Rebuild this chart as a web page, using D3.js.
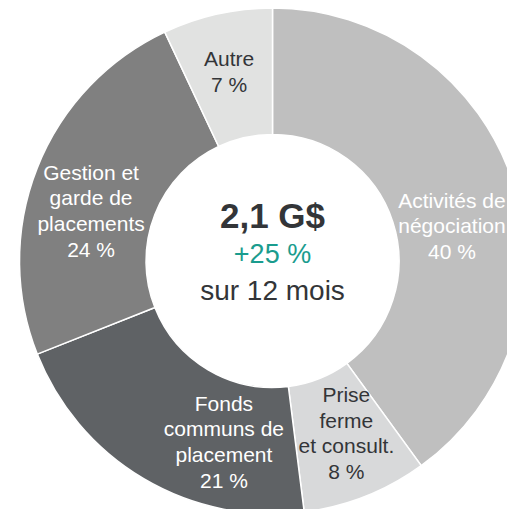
<!DOCTYPE html>
<html>
<head>
<meta charset="utf-8">
<script src="https://cdn.jsdelivr.net/npm/d3@7"></script>
<style>
  body { margin: 0; background: #fff; overflow: hidden; }
  svg { display: block; font-family: "Liberation Sans", Arial, sans-serif; }
</style>
</head>
<body>
<svg id="chart"></svg>
<script>
// slices, clockwise from 12 o'clock
var segments = ["Activités de négociation", "Prise ferme et consult.", "Fonds communs de placement", "Gestion et garde de placements", "Autre"]
var shares = [40, 8, 21, 24, 7]
var labelLines = [
  ["Activités de", "négociation", "40 %"],
  ["Prise", "ferme", "et consult.", "8 %"],
  ["Fonds", "communs de", "placement", "21 %"],
  ["Gestion et", "garde de", "placements", "24 %"],
  ["Autre", "7 %"]
]
var centerLines = ["2,1 G$", "+25 %", "sur 12 mois"]

var fills = ["#bfbfbf", "#d8d9da", "#5f6265", "#808080", "#e1e2e1"]
var textFills = ["#ffffff", "#333538", "#ffffff", "#ffffff", "#333538"]
// hand placement of labels, offset from the arc centroid (as in the original slide)
var nudge = [[-1, 24], [4, -4], [48, 18], [-5, 20], [-2, -4]]

var width = 507, height = 509
var cx = 272.5, cy = 261
var outerR = 253, innerR = 126.5

var svg = d3.select("#chart")
            .attr("width", width)
            .attr("height", height)

var g = svg.append("g")
           .attr("transform", "translate(" + cx + "," + cy + ")")

var data = segments.map(function(s, i) {
  return {name: s, value: shares[i], lines: labelLines[i], i: i}
})

var pie = d3.pie()
            .value(function(d) { return d.value })
            .sort(null)

var arc = d3.arc()
            .innerRadius(innerR)
            .outerRadius(outerR)

var labelArc = d3.arc()
                 .innerRadius((innerR + outerR) / 2)
                 .outerRadius((innerR + outerR) / 2)

var arcs = pie(data)

g.selectAll("path.slice")
 .data(arcs)
 .enter()
 .append("path")
 .classed("slice", true)
 .attr("d", arc)
 .attr("fill", function(d) { return fills[d.data.i] })
 .attr("stroke", "#ffffff")
 .attr("stroke-width", 1.5)

var lineH = 25.7
var labels = g.selectAll("text.lbl")
              .data(arcs)
              .enter()
              .append("text")
              .classed("lbl", true)
              .attr("text-anchor", "middle")
              .attr("font-size", 21)
              .attr("fill", function(d) { return textFills[d.data.i] })
              .attr("transform", function(d) {
                var c = labelArc.centroid(d)
                var n = nudge[d.data.i]
                var top = -(d.data.lines.length - 1) * lineH / 2 + 7
                return "translate(" + (c[0] + n[0]) + "," + (c[1] + n[1] + top) + ")"
              })

labels.selectAll("tspan")
      .data(function(d) { return d.data.lines })
      .enter()
      .append("tspan")
      .attr("x", 0)
      .attr("y", function(d, i) { return i * lineH })
      .text(function(d) { return d })

// centre text
g.append("text")
 .attr("text-anchor", "middle")
 .attr("y", -33)
 .attr("font-size", 35)
 .attr("font-weight", "bold")
 .attr("fill", "#333538")
 .text(centerLines[0])

g.append("text")
 .attr("text-anchor", "middle")
 .attr("y", 2)
 .attr("font-size", 27)
 .attr("fill", "#1a9c8e")
 .text(centerLines[1])

g.append("text")
 .attr("text-anchor", "middle")
 .attr("y", 39)
 .attr("font-size", 28)
 .attr("fill", "#333538")
 .text(centerLines[2])
</script>
</body>
</html>
